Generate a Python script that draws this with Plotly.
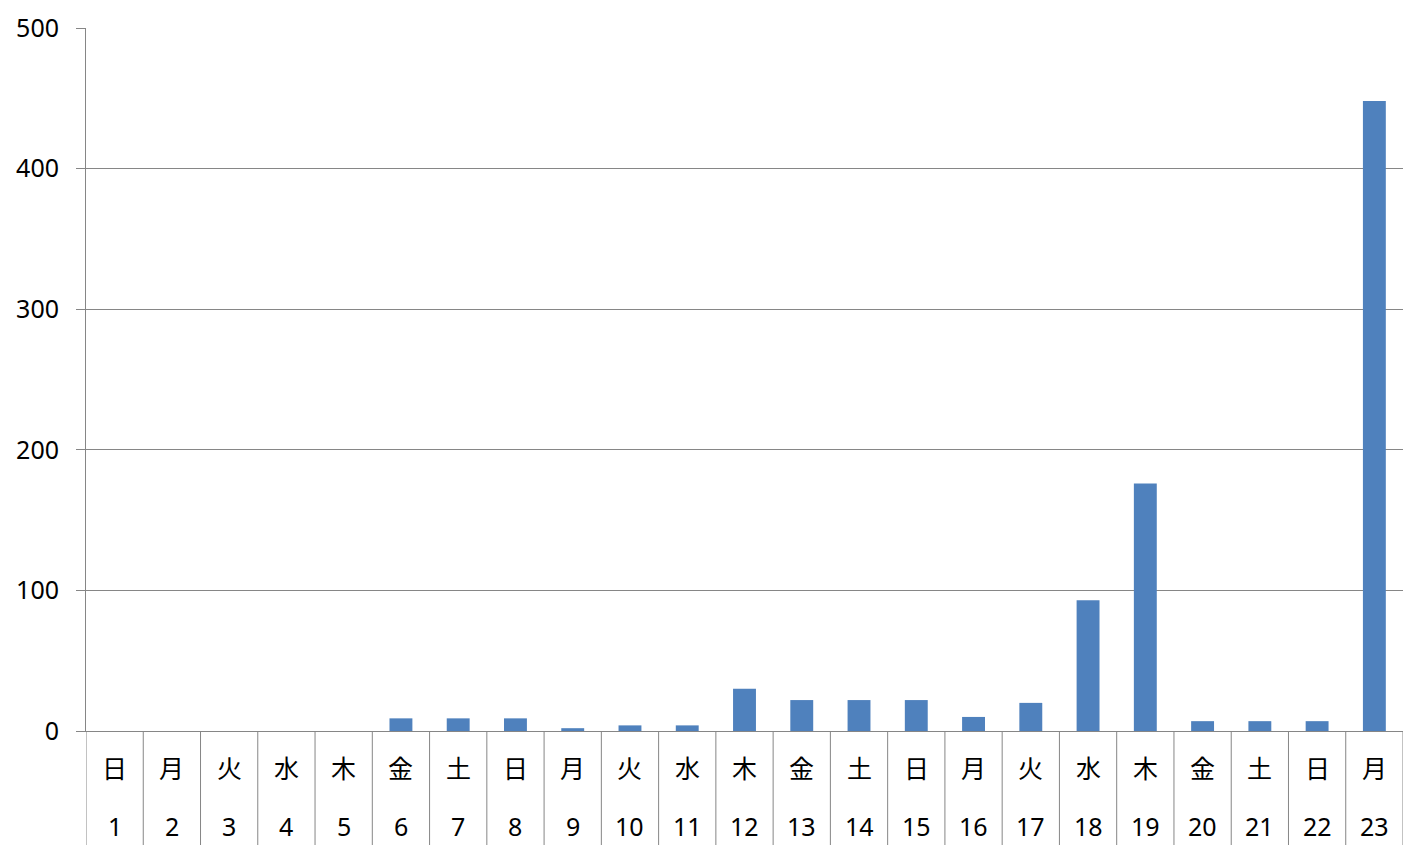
import plotly.graph_objects as go

days = list(range(1, 24))
weekdays = ["日", "月", "火", "水", "木", "金", "土", "日", "月", "火", "水", "木",
            "金", "土", "日", "月", "火", "水", "木", "金", "土", "日", "月"]
values = [0, 0, 0, 0, 0, 9, 9, 9, 2, 4, 4, 30, 22, 22, 22, 10, 20, 93, 176, 7, 7, 7, 448]
y_ticks = [0, 100, 200, 300, 400, 500]

GRID = "#868686"
FONT = "Noto Sans, Noto Sans CJK JP, sans-serif"

fig = go.Figure()
fig.add_trace(go.Bar(x=days, y=values, width=0.4,
                     marker=dict(color="#4F81BD", line=dict(width=0)),
                     hoverinfo="x+y"))

# page body has an 8px default margin; compensate
OFF = 8
W, H = 1425 - OFF, 855 - OFF
ml, mt = 86 - OFF, 28 - OFF
mr = W - (1403 - OFF)
mb = H - (731 - OFF)
plot_h = H - mt - mb

shapes = []
for i in range(len(days) + 1):
    shapes.append(dict(type="line", xref="x", yref="paper",
                       x0=days[0] + i - 0.5, x1=days[0] + i - 0.5,
                       y0=0, y1=-(845 - 731) / plot_h,
                       line=dict(color=GRID, width=1)))

annotations = []
for d, w in zip(days, weekdays):
    annotations.append(dict(x=d, y=-(768 - 731) / plot_h, xref="x", yref="paper",
                            text=w, showarrow=False, yanchor="middle",
                            font=dict(size=25, color="#000000", family=FONT)))
    annotations.append(dict(x=d, y=-(826 - 731) / plot_h, xref="x", yref="paper",
                            text=str(d), showarrow=False, yanchor="middle",
                            font=dict(size=25, color="#000000", family=FONT)))

fig.update_layout(
    width=W, height=H,
    margin=dict(l=ml, r=mr, t=mt, b=mb, autoexpand=False),
    paper_bgcolor="white", plot_bgcolor="white",
    showlegend=False,
    shapes=shapes,
    annotations=annotations,
    font=dict(family=FONT, size=25, color="#000000"),
    xaxis=dict(type="linear", showticklabels=False, showgrid=False,
               showline=True, linecolor=GRID, linewidth=1, ticks="",
               range=[days[0] - 0.5, days[-1] + 0.5], zeroline=False, fixedrange=True),
    yaxis=dict(range=[0, 500], tickvals=y_ticks, showgrid=True, gridcolor=GRID,
               gridwidth=1, showline=True, linecolor=GRID, linewidth=1,
               ticks="outside", ticklen=9, tickcolor=GRID, ticklabelstandoff=12,
               tickfont=dict(size=25, family=FONT, color="#000000"),
               zeroline=False, fixedrange=True),
)

fig.write_html("out.html")
